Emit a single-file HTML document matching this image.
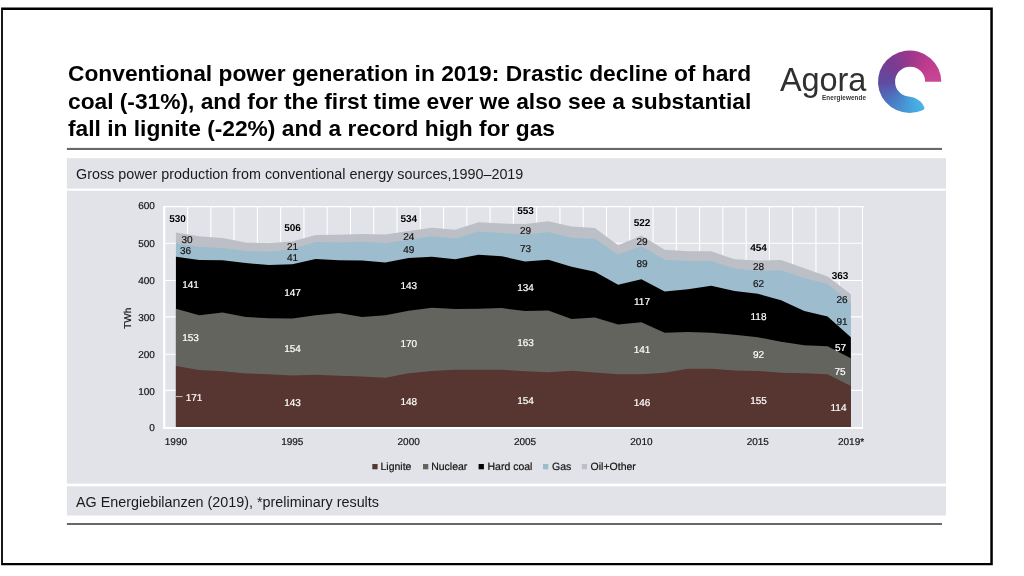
<!DOCTYPE html>
<html><head><meta charset="utf-8"><title>Conventional power generation in 2019</title>
<style>
html,body{margin:0;padding:0;background:#fff;}
body{width:1024px;height:576px;position:relative;overflow:hidden;font-family:"Liberation Sans",sans-serif;}
.title{position:absolute;left:67.5px;top:60.1px;width:700px;font-weight:bold;font-size:22.775px;line-height:27.5px;color:#000;white-space:nowrap;}
.boxt{position:absolute;left:77px;font-size:14.35px;color:#1a1a1a;white-space:nowrap;}
svg{position:absolute;left:0;top:0;will-change:transform;text-rendering:geometricPrecision;}
.title,.boxt,.logo-a,.logo-e{will-change:transform;}
.t{font-family:"Liberation Sans",sans-serif;font-size:10px;fill:#141414;stroke:#141414;stroke-width:0.2px;}
.b{font-family:"Liberation Sans",sans-serif;font-size:10px;font-weight:bold;fill:#000;}
.w{font-family:"Liberation Sans",sans-serif;font-size:10px;fill:#fff;stroke:#fff;stroke-width:0.2px;}
.logo-a{position:absolute;left:779.7px;top:62.2px;font-size:32.5px;letter-spacing:-0.1px;color:#303030;line-height:36px;}
.logo-e{position:absolute;left:821.5px;top:92.9px;font-size:6.33px;font-weight:bold;color:#333;line-height:9px;letter-spacing:0.1px;}
.ring{position:absolute;left:878px;top:49.5px;width:64px;height:64px;
 background:conic-gradient(from 90deg at 31.8px 32.2px,#4fbdea 0%,#4ab4e6 17%,#46a0dc 25%,#4b78c3 37.5%,#5f4ba0 50%,#783c91 62.5%,#9b378c 75%,#be3c8c 87.5%,#cd4696 100%);
 clip-path:path('M63.3 32.2 A31.65 31.2 0 1 0 44.6 60.7 C46.8 59.8 46.6 58.5 46.1 57.4 C44.5 52.5 39 48.3 32.1 47.2 A15 15 0 1 1 47.1 32.2 Z');}
</style></head><body>
<svg width="1024" height="576" viewBox="0 0 1024 576">
<path d="M1.1 7.5H992.8V565.3H1.1Z M2.9 9.9H990.3V563.1H2.9Z" fill="#000" fill-rule="evenodd"/>
<rect x="66.9" y="147.9" width="875.1" height="2.1" fill="#686868"/>
<rect x="66.9" y="523" width="875.1" height="2" fill="#686868"/>
<rect x="66.9" y="158.2" width="879.1" height="30.4" fill="#e2e3e8"/>
<rect x="66.9" y="190.7" width="879.1" height="292.95" fill="#e2e3e8"/>
<rect x="66.9" y="486.25" width="879.1" height="29.25" fill="#e2e3e8"/>
<g shape-rendering="auto">
<line x1="187.57" y1="206.75" x2="187.57" y2="428.00" stroke="#fff" stroke-width="1.1"/>
<line x1="210.85" y1="206.75" x2="210.85" y2="428.00" stroke="#fff" stroke-width="1.1"/>
<line x1="234.12" y1="206.75" x2="234.12" y2="428.00" stroke="#fff" stroke-width="1.1"/>
<line x1="257.39" y1="206.75" x2="257.39" y2="428.00" stroke="#fff" stroke-width="1.1"/>
<line x1="280.67" y1="206.75" x2="280.67" y2="428.00" stroke="#fff" stroke-width="1.1"/>
<line x1="303.94" y1="206.75" x2="303.94" y2="428.00" stroke="#fff" stroke-width="1.1"/>
<line x1="327.21" y1="206.75" x2="327.21" y2="428.00" stroke="#fff" stroke-width="1.1"/>
<line x1="350.49" y1="206.75" x2="350.49" y2="428.00" stroke="#fff" stroke-width="1.1"/>
<line x1="373.76" y1="206.75" x2="373.76" y2="428.00" stroke="#fff" stroke-width="1.1"/>
<line x1="397.03" y1="206.75" x2="397.03" y2="428.00" stroke="#fff" stroke-width="1.1"/>
<line x1="420.31" y1="206.75" x2="420.31" y2="428.00" stroke="#fff" stroke-width="1.1"/>
<line x1="443.58" y1="206.75" x2="443.58" y2="428.00" stroke="#fff" stroke-width="1.1"/>
<line x1="466.85" y1="206.75" x2="466.85" y2="428.00" stroke="#fff" stroke-width="1.1"/>
<line x1="490.13" y1="206.75" x2="490.13" y2="428.00" stroke="#fff" stroke-width="1.1"/>
<line x1="513.40" y1="206.75" x2="513.40" y2="428.00" stroke="#fff" stroke-width="1.1"/>
<line x1="536.67" y1="206.75" x2="536.67" y2="428.00" stroke="#fff" stroke-width="1.1"/>
<line x1="559.95" y1="206.75" x2="559.95" y2="428.00" stroke="#fff" stroke-width="1.1"/>
<line x1="583.22" y1="206.75" x2="583.22" y2="428.00" stroke="#fff" stroke-width="1.1"/>
<line x1="606.49" y1="206.75" x2="606.49" y2="428.00" stroke="#fff" stroke-width="1.1"/>
<line x1="629.77" y1="206.75" x2="629.77" y2="428.00" stroke="#fff" stroke-width="1.1"/>
<line x1="653.04" y1="206.75" x2="653.04" y2="428.00" stroke="#fff" stroke-width="1.1"/>
<line x1="676.31" y1="206.75" x2="676.31" y2="428.00" stroke="#fff" stroke-width="1.1"/>
<line x1="699.59" y1="206.75" x2="699.59" y2="428.00" stroke="#fff" stroke-width="1.1"/>
<line x1="722.86" y1="206.75" x2="722.86" y2="428.00" stroke="#fff" stroke-width="1.1"/>
<line x1="746.13" y1="206.75" x2="746.13" y2="428.00" stroke="#fff" stroke-width="1.1"/>
<line x1="769.41" y1="206.75" x2="769.41" y2="428.00" stroke="#fff" stroke-width="1.1"/>
<line x1="792.68" y1="206.75" x2="792.68" y2="428.00" stroke="#fff" stroke-width="1.1"/>
<line x1="815.95" y1="206.75" x2="815.95" y2="428.00" stroke="#fff" stroke-width="1.1"/>
<line x1="839.23" y1="206.75" x2="839.23" y2="428.00" stroke="#fff" stroke-width="1.1"/>
<line x1="862.50" y1="206.75" x2="862.50" y2="428.00" stroke="#fff" stroke-width="1.1"/>
<line x1="164.30" y1="390.40" x2="862.50" y2="390.40" stroke="#fff" stroke-width="1.1"/>
<line x1="164.30" y1="354.30" x2="862.50" y2="354.30" stroke="#fff" stroke-width="1.1"/>
<line x1="164.30" y1="316.90" x2="862.50" y2="316.90" stroke="#fff" stroke-width="1.1"/>
<line x1="164.30" y1="280.50" x2="862.50" y2="280.50" stroke="#fff" stroke-width="1.1"/>
<line x1="164.30" y1="243.30" x2="862.50" y2="243.30" stroke="#fff" stroke-width="1.1"/>
<line x1="164.30" y1="206.60" x2="863.70" y2="206.60" stroke="#fff" stroke-width="1.1"/>
</g>
<g>
<polygon fill="#bcbfc6" points="175.94,232.53 199.21,236.32 222.48,238.02 245.76,242.52 269.03,242.89 292.30,241.45 315.58,235.07 338.85,234.85 362.12,234.04 385.40,234.59 408.67,231.01 431.94,227.77 455.22,229.83 478.49,222.35 501.76,223.56 525.04,224.12 548.31,221.32 571.58,226.40 594.86,228.10 618.13,245.36 641.40,235.59 664.68,249.67 687.95,251.15 711.22,251.37 734.50,259.26 757.77,260.59 781.04,260.00 804.32,268.22 827.59,276.59 850.86,294.18 850.86,428.00 175.94,428.00"/>
<polygon fill="#9dbccd" points="175.94,243.59 199.21,246.65 222.48,247.98 245.76,251.00 269.03,251.74 292.30,249.19 315.58,242.08 338.85,242.44 362.12,241.67 385.40,243.29 408.67,239.86 431.94,236.25 455.22,238.57 478.49,231.57 501.76,232.97 525.04,234.81 548.31,231.94 571.58,237.84 594.86,238.79 618.13,254.39 641.40,246.28 664.68,259.63 687.95,260.96 711.22,260.96 734.50,268.48 757.77,270.91 781.04,270.32 804.32,277.99 827.59,283.97 850.86,303.22 850.86,428.00 175.94,428.00"/>
<polygon fill="#000000" points="175.94,256.83 199.21,260.03 222.48,260.14 245.76,263.10 269.03,265.05 292.30,264.35 315.58,258.89 338.85,260.18 362.12,260.44 385.40,262.39 408.67,258.01 431.94,256.72 455.22,259.33 478.49,254.76 501.76,256.20 525.04,261.62 548.31,259.70 571.58,266.63 594.86,271.65 618.13,284.78 641.40,279.21 664.68,291.38 687.95,289.13 711.22,285.85 734.50,291.01 757.77,293.77 781.04,300.30 804.32,310.88 827.59,316.60 850.86,337.14 850.86,428.00 175.94,428.00"/>
<polygon fill="#64645f" points="175.94,308.75 199.21,315.27 222.48,312.47 245.76,317.01 269.03,318.37 292.30,318.59 315.58,315.20 338.85,312.95 362.12,317.01 385.40,315.16 408.67,310.77 431.94,307.75 455.22,308.97 478.49,308.78 501.76,308.12 525.04,311.07 548.31,310.55 571.58,319.00 594.86,317.60 618.13,324.57 641.40,322.35 664.68,332.83 687.95,332.05 711.22,332.79 734.50,334.74 757.77,337.18 781.04,341.68 804.32,345.14 827.59,346.28 850.86,358.27 850.86,428.00 175.94,428.00"/>
<polygon fill="#573530" points="175.94,366.05 199.21,370.11 222.48,371.32 245.76,373.61 269.03,374.13 292.30,375.42 315.58,374.79 338.85,375.75 362.12,376.60 385.40,377.85 408.67,373.31 431.94,370.92 455.22,369.74 478.49,369.66 501.76,369.74 525.04,371.18 548.31,372.28 571.58,370.81 594.86,372.47 618.13,374.31 641.40,374.20 664.68,372.65 687.95,368.74 711.22,368.67 734.50,370.55 757.77,371.03 781.04,372.87 804.32,373.28 827.59,374.31 850.86,385.96 850.86,428.00 175.94,428.00"/>
</g>
<rect x="163.1" y="206" width="2.2" height="223" fill="#fff"/>
<rect x="163.1" y="427" width="700" height="2" fill="#fff"/>
<line x1="176" y1="396.6" x2="182.5" y2="396.6" stroke="#e8dede" stroke-width="0.8"/>
<g>
<text x="154.9" y="431.00" text-anchor="end" class="t">0</text>
<text x="154.9" y="395.00" text-anchor="end" class="t">100</text>
<text x="154.9" y="358.00" text-anchor="end" class="t">200</text>
<text x="154.9" y="321.00" text-anchor="end" class="t">300</text>
<text x="154.9" y="284.00" text-anchor="end" class="t">400</text>
<text x="154.9" y="247.00" text-anchor="end" class="t">500</text>
<text x="154.9" y="209.00" text-anchor="end" class="t">600</text>
<text x="175.94" y="444.8" text-anchor="middle" class="t">1990</text>
<text x="292.30" y="444.8" text-anchor="middle" class="t">1995</text>
<text x="408.67" y="444.8" text-anchor="middle" class="t">2000</text>
<text x="525.04" y="444.8" text-anchor="middle" class="t">2005</text>
<text x="641.40" y="444.8" text-anchor="middle" class="t">2010</text>
<text x="757.77" y="444.8" text-anchor="middle" class="t">2015</text>
<text x="837.96" y="444.8" text-anchor="start" class="t">2019*</text>
<text transform="translate(130.7,318.3) rotate(-90)" text-anchor="middle" class="t">TWh</text>
<text x="177.5" y="222.0" text-anchor="middle" class="b">530</text>
<text x="187.0" y="243.1" text-anchor="middle" class="t">30</text>
<text x="185.5" y="254.0" text-anchor="middle" class="t">36</text>
<text x="190.5" y="288.0" text-anchor="middle" class="w">141</text>
<text x="190.5" y="341.0" text-anchor="middle" class="w">153</text>
<text x="194.0" y="400.5" text-anchor="middle" class="w">171</text>
<text x="292.5" y="231.0" text-anchor="middle" class="b">506</text>
<text x="292.5" y="249.5" text-anchor="middle" class="t">21</text>
<text x="292.5" y="261.0" text-anchor="middle" class="t">41</text>
<text x="292.5" y="296.0" text-anchor="middle" class="w">147</text>
<text x="292.5" y="351.5" text-anchor="middle" class="w">154</text>
<text x="292.5" y="406.0" text-anchor="middle" class="w">143</text>
<text x="408.8" y="221.5" text-anchor="middle" class="b">534</text>
<text x="408.8" y="239.5" text-anchor="middle" class="t">24</text>
<text x="408.8" y="253.0" text-anchor="middle" class="t">49</text>
<text x="408.8" y="288.5" text-anchor="middle" class="w">143</text>
<text x="408.8" y="346.5" text-anchor="middle" class="w">170</text>
<text x="408.8" y="405.0" text-anchor="middle" class="w">148</text>
<text x="525.5" y="214.0" text-anchor="middle" class="b">553</text>
<text x="525.5" y="233.5" text-anchor="middle" class="t">29</text>
<text x="525.5" y="252.0" text-anchor="middle" class="t">73</text>
<text x="525.5" y="290.5" text-anchor="middle" class="w">134</text>
<text x="525.5" y="345.5" text-anchor="middle" class="w">163</text>
<text x="525.5" y="404.0" text-anchor="middle" class="w">154</text>
<text x="642.0" y="225.5" text-anchor="middle" class="b">522</text>
<text x="642.0" y="244.5" text-anchor="middle" class="t">29</text>
<text x="642.0" y="266.5" text-anchor="middle" class="t">89</text>
<text x="642.0" y="305.0" text-anchor="middle" class="w">117</text>
<text x="642.0" y="352.5" text-anchor="middle" class="w">141</text>
<text x="642.0" y="405.5" text-anchor="middle" class="w">146</text>
<text x="758.5" y="251.0" text-anchor="middle" class="b">454</text>
<text x="758.5" y="270.0" text-anchor="middle" class="t">28</text>
<text x="758.5" y="286.5" text-anchor="middle" class="t">62</text>
<text x="758.5" y="319.5" text-anchor="middle" class="w">118</text>
<text x="758.5" y="358.0" text-anchor="middle" class="w">92</text>
<text x="758.5" y="404.0" text-anchor="middle" class="w">155</text>
<text x="840.0" y="279.0" text-anchor="middle" class="b">363</text>
<text x="842.0" y="303.0" text-anchor="middle" class="t">26</text>
<text x="842.0" y="324.5" text-anchor="middle" class="t">91</text>
<text x="840.5" y="350.5" text-anchor="middle" class="w">57</text>
<text x="840.0" y="375.0" text-anchor="middle" class="w">75</text>
<text x="838.5" y="410.5" text-anchor="middle" class="w">114</text>
<rect x="372.3" y="464" width="5.3" height="5.3" fill="#573530"/><text x="380.5" y="470.4" class="t" style="font-size:10.5px">Lignite</text>
<rect x="423.0" y="464" width="5.3" height="5.3" fill="#64645f"/><text x="431.2" y="470.4" class="t" style="font-size:10.5px">Nuclear</text>
<rect x="478.6" y="464" width="5.3" height="5.3" fill="#000"/><text x="487.5" y="470.4" class="t" style="font-size:10.5px">Hard coal</text>
<rect x="543.0" y="464" width="5.3" height="5.3" fill="#9dbccd"/><text x="552.0" y="470.4" class="t" style="font-size:10.5px">Gas</text>
<rect x="581.8" y="464" width="5.3" height="5.3" fill="#bcbfc6"/><text x="590.6" y="470.4" class="t" style="font-size:10.5px">Oil+Other</text>
</g>
</svg>
<div class="title">Conventional power generation in 2019: Drastic decline of hard<br><span style="word-spacing:-0.1px">coal (-31%), and for the first time ever we also see a substantial</span><br>fall in lignite (-22%) and a record high for gas</div>
<div class="logo-a">Agora</div>
<div class="logo-e">Energiewende</div>
<div class="ring"></div>
<div class="boxt" style="top:165.5px;left:76.3px;line-height:17px">Gross power production from conventional energy sources,1990–2019</div>
<div class="boxt" style="top:493.9px;left:76.3px;line-height:17px">AG Energiebilanzen (2019), *preliminary results</div>
</body></html>
